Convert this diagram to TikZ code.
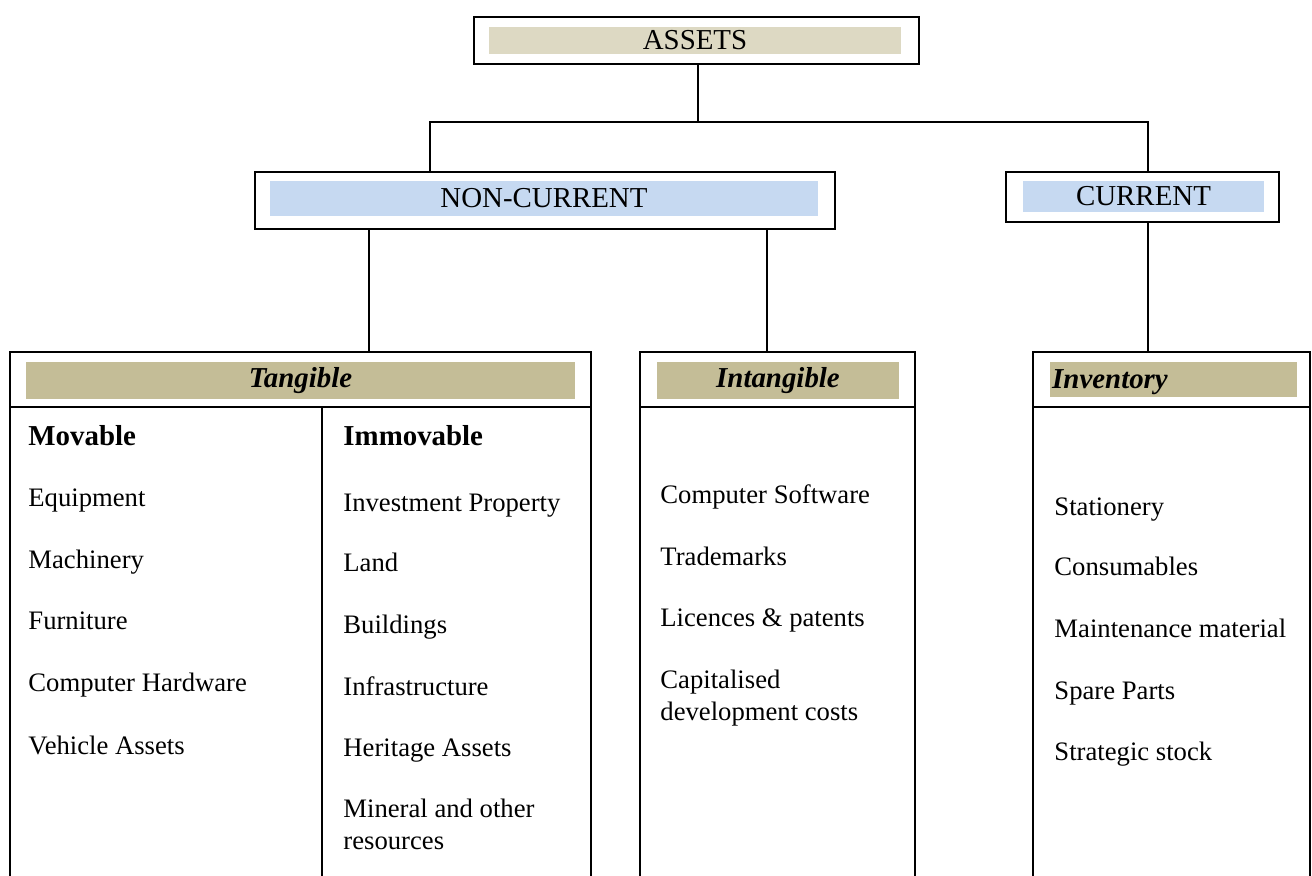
\documentclass[tikz,border=0pt]{standalone}
\usepackage{fontspec}
\setmainfont{Liberation Serif}
\usetikzlibrary{positioning, calc, fit}
\definecolor{sandlight}{HTML}{DDD9C3}
\definecolor{sanddark}{HTML}{C4BD97}
\definecolor{skyblue}{HTML}{C6D9F1}
\tikzset{
	frame/.style={draw, line width=0.9pt, inner sep=0pt},
	band/.style={inner sep=0pt},
	head/.style={font=\fontsize{13}{15.6}\selectfont},
	item/.style={anchor=base west, inner sep=0pt, font=\fontsize{12}{14.4}\selectfont},
	link/.style={line width=0.8pt}
}

\begin{document}
\begin{tikzpicture}[x=0.45pt, y=-0.45pt]
		\useasboundingbox (0,0) rectangle (1312,876);
		% top level
		\node[frame, fit={(474,17) (919,64)}] (assets) {};
		\node[band, fill=sandlight, fit={(489,27) (901,54)}] (assetsband) {};
		\node[head] at (assetsband) {ASSETS};
		\node[frame, fit={(255,172) (835,229)}] (noncur) {};
		\node[band, fill=skyblue, fit={(270,181) (818,216)}] (noncurband) {};
		\node[head] at (noncurband) {NON-CURRENT};
		\node[frame, fit={(1006,172) (1279,222)}] (cur) {};
		\node[band, fill=skyblue, fit={(1023,181) (1264,212)}] (curband) {};
		\node[head] at (curband) {CURRENT};
		% lower boxes
		\node[frame, fit={(10,352) (591,882)}] (tang) {};
		\node[band, fill=sanddark, fit={(26,362) (575,399)}] (tangband) {};
		\node[head] at (tangband) {\textbf{\textit{Tangible}}};
		\node[frame, fit={(640,352) (915,882)}] (intang) {};
		\node[band, fill=sanddark, fit={(657,362) (899,399)}] (intangband) {};
		\node[head] at (intangband) {\textbf{\textit{Intangible}}};
		\node[frame, fit={(1033,352) (1310,882)}] (inv) {};
		\node[band, fill=sanddark, fit={(1050,362) (1297,397)}] (invband) {};
		\node[head, anchor=west, inner sep=1pt] at ($(invband.west)+(0,3)$) {\textbf{\textit{Inventory}}};
		\draw[link] (tang.west |- 0,407) -- (tang.east |- 0,407);
		\draw[link] (intang.west |- 0,407) -- (intang.east |- 0,407);
		\draw[link] (inv.west |- 0,407) -- (inv.east |- 0,407);
		\coordinate (colsplit) at (322,407);
		\draw[link] (colsplit) -- (colsplit |- tang.south);
		% connectors
		\coordinate (fork) at (698,122);
		\coordinate (ncTop) at ($(noncur.north west)!0.303!(noncur.north east)$);
		\coordinate (cTop) at ($(cur.north west)!0.52!(cur.north east)$);
		\coordinate (ncL) at ($(noncur.south west)!0.198!(noncur.south east)$);
		\coordinate (ncR) at ($(noncur.south west)!0.881!(noncur.south east)$);
		\coordinate (cBot) at ($(cur.south west)!0.52!(cur.south east)$);
		\draw[link] (fork |- assets.south) -- (fork);
		\draw[link] (ncTop) |- (fork) -| (cTop);
		\draw[link] (ncL) -- (ncL |- tang.north);
		\draw[link] (ncR) -- (ncR |- intang.north);
		\draw[link] (cBot) -- (cBot |- inv.north);
		% tangible columns
		\node[item, font=\fontsize{13}{15.6}\selectfont\bfseries] (movable) at (28,446) {Movable};
		\node[item] (equip) at (28,507) {Equipment};
		\node[item] (mach) at (28,569) {Machinery};
		\node[item] (furn) at (28,630) {Furniture};
		\node[item] (hard) at (28,692) {Computer Hardware};
		\node[item] (vehic) at (28,755) {Vehicle Assets};
		\node[item, font=\fontsize{13}{15.6}\selectfont\bfseries] (immovable) at (343,446) {Immovable};
		\node[item] (invprop) at (343,512) {Investment Property};
		\node[item] (land) at (343,572) {Land};
		\node[item] (build) at (343,634) {Buildings};
		\node[item] (infra) at (343,696) {Infrastructure};
		\node[item] (herit) at (343,757) {Heritage Assets};
		\node[item] (mineral) at (343,817) {Mineral and other};
		\node[item] (resrc) at (343,849) {resources};
		% intangible
		\node[item] (soft) at (660,504) {Computer Software};
		\node[item] (trade) at (660,566) {Trademarks};
		\node[item] (licen) at (660,627) {Licences \& patents};
		\node[item] (capit) at (660,689) {Capitalised};
		\node[item] (devcost) at (660,721) {development costs};
		% inventory
		\node[item] (stat) at (1054,516) {Stationery};
		\node[item] (consum) at (1054,576) {Consumables};
		\node[item] (maint) at (1054,638) {Maintenance material};
		\node[item] (spare) at (1054,700) {Spare Parts};
		\node[item] (strat) at (1054,761) {Strategic stock};
\end{tikzpicture}
\end{document}
